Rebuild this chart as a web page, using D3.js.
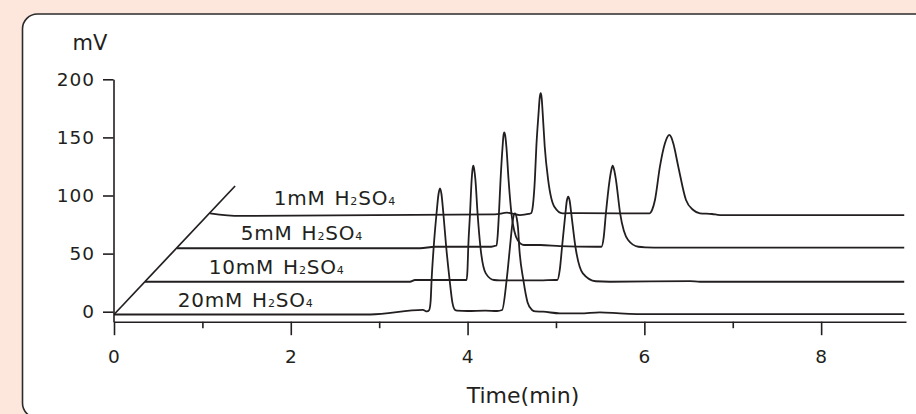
<!DOCTYPE html>
<html>
<head>
<meta charset="utf-8">
<script src="https://cdn.jsdelivr.net/npm/d3@7"></script>
<style>
  body { margin: 0; background: #fde7dc; }
  svg { display: block; font-family: "DejaVu Sans", sans-serif; }
</style>
</head>
<body>
<svg></svg>
<script>
// acid concentrations, bottom trace first
let concentrations = ['20mM', '10mM', '5mM', '1mM'];

// chromatograms: [time (min), signal (mV)]
let trace20 = [
  [0, -2.4], [2.90, -2.4], [3.495, 1.5], [3.541, 0.2], [3.566, 1.5], [3.582, 9],
  [3.593, 27.3], [3.617, 55.9], [3.649, 84.7], [3.672, 101.5], [3.688, 106.2], [3.704, 101.5],
  [3.726, 84.7], [3.758, 55.9], [3.797, 27.3], [3.828, 8], [3.859, 1.5], [3.88, 1.0], [4.0, 0.6],
  [4.2, 1.0], [4.333, 0.6], [4.391, 1.5], [4.442, 27.3], [4.480, 55.9], [4.501, 72],
  [4.516, 80.5], [4.536, 84.7], [4.556, 80.5], [4.571, 72], [4.584, 55.9], [4.631, 27.3],
  [4.679, 8], [4.729, 1.5], [4.77, 0.2],
  [4.853, 0], [5.045, -1.4], [5.271, -1.4], [5.498, -0.5], [5.724, -1.4],
  [5.95, -2.0], [8.94, -2.0]
];
let trace10 = [
  [0.351, 25.8], [3.348, 25.8], [3.405, 27.3], [3.914, 27.3], [3.989, 27.3], [3.999, 36],
  [4.008, 55.9], [4.028, 84.7], [4.046, 113.3], [4.056, 122.5], [4.065, 125.6], [4.075, 122.5],
  [4.089, 113.3], [4.113, 84.7], [4.145, 55.9], [4.206, 33.0], [4.30, 27.3], [4.367, 27.0],
  [4.819, 26.9], [4.989, 27.3], [5.015, 27.3], [5.043, 36], [5.069, 55.9], [5.107, 84.7],
  [5.123, 95.5], [5.139, 99.0], [5.155, 95.5], [5.173, 84.7], [5.220, 55.9], [5.304, 33.0],
  [5.45, 26.2], [5.611, 25.8], [6.516, 26.4], [6.629, 25.8], [8.94, 25.8]
];
let trace5 = [
  [0.713, 54.6], [3.462, 54.6], [3.631, 55.9], [4.253, 55.9], [4.30, 56.5],
  [4.328, 57], [4.341, 66], [4.355, 84.7], [4.373, 113.3], [4.396, 142.0], [4.406, 151.5],
  [4.415, 154.4], [4.426, 151.5], [4.439, 142.0], [4.464, 113.3], [4.496, 84.7], [4.566, 61.7],
  [4.637, 57.4], [4.819, 57.4], [5.045, 56.5], [5.45, 55.9], [5.515, 55.9], [5.540, 64],
  [5.565, 84.7], [5.607, 113.3], [5.625, 121.5], [5.641, 125.6], [5.660, 121.5], [5.679, 113.3],
  [5.726, 84.7], [5.816, 61.7], [5.932, 55.9], [6.02, 55.4], [6.2, 55.1], [8.94, 55.1]
];
let trace1 = [
  [1.086, 84.7], [1.425, 82.4], [4.310, 83.8], [4.446, 85.2], [4.593, 83.2],
  [4.69, 84.1], [4.718, 84.7], [4.740, 92], [4.761, 113.3], [4.778, 142.0], [4.803, 170.7],
  [4.816, 184], [4.827, 188.0], [4.838, 184], [4.850, 170.7], [4.873, 142.0], [4.912, 113.3],
  [4.982, 90.4], [5.076, 84.7], [5.271, 84.9], [5.724, 84.7], [6.060, 84.7], [6.090, 88],
  [6.120, 96.1], [6.176, 124.8], [6.233, 144.9], [6.258, 150], [6.282, 152.1], [6.305, 150],
  [6.327, 144.9], [6.384, 124.8], [6.471, 96.1], [6.553, 87.5], [6.629, 84.7], [6.765, 84.1],
  [6.855, 83.2], [8.94, 83.2]
];
let traces = [trace20, trace10, trace5, trace1];

// depth guide the traces start from
let depthLine = [[0, -2.4], [1.37, 108.2]];

let yTicks = [0, 50, 100, 150, 200];
let xMajorTicks = [0, 2, 4, 6, 8];
let xMinorTicks = [1, 3, 5, 7];

let width = 916;
let height = 414;
let ink = '#231f20';

let xScale = d3.scaleLinear().domain([0, 8.96]).range([114, 906]);
let yScale = d3.scaleLinear().domain([-8.6, 200]).range([321.7, 79.3]);

let svg = d3.select('svg')
  .attr('width', width)
  .attr('height', height);

// white panel with rounded corners
svg.append('rect')
  .attr('x', 22.5)
  .attr('y', 14)
  .attr('width', 930)
  .attr('height', 404)
  .attr('rx', 15)
  .attr('fill', '#fff')
  .attr('stroke', '#2b2b2b')
  .attr('stroke-width', 1.6);

// y axis
svg.append('g')
  .attr('transform', `translate(${xScale(0) - 0.5}, 0)`)
  .call(d3.axisLeft(yScale).tickValues(yTicks).tickSize(10.5).tickSizeOuter(0).tickPadding(8));

// x axis, major and minor ticks
svg.append('g')
  .attr('transform', `translate(0, ${yScale.range()[0]})`)
  .call(d3.axisBottom(xScale).tickValues(xMajorTicks).tickSize(13.5).tickSizeOuter(0).tickPadding(15));

svg.append('g')
  .attr('transform', `translate(0, ${yScale.range()[0]})`)
  .call(d3.axisBottom(xScale).tickValues(xMinorTicks).tickSize(6.5).tickFormat(''))
  .call(g => g.select('.domain').remove());

svg.selectAll('.domain, .tick line')
  .attr('stroke', ink)
  .attr('stroke-width', 1.6);

svg.selectAll('.tick text')
  .attr('fill', ink)
  .style('font-family', '"DejaVu Sans", sans-serif')
  .style('font-size', '18.5px')
  .style('letter-spacing', '1px');

svg.append('text')
  .attr('x', 90)
  .attr('y', 50)
  .attr('text-anchor', 'middle')
  .attr('fill', ink)
  .style('font-size', '21px')
  .text('mV');

svg.append('text')
  .attr('x', 523)
  .attr('y', 403)
  .attr('text-anchor', 'middle')
  .attr('fill', ink)
  .style('font-size', '22px')
  .text('Time(min)');

// depth guide
svg.append('line')
  .attr('x1', xScale(depthLine[0][0]))
  .attr('y1', yScale(depthLine[0][1]))
  .attr('x2', xScale(depthLine[1][0]))
  .attr('y2', yScale(depthLine[1][1]))
  .attr('stroke', ink)
  .attr('stroke-width', 1.7);

// traces
let line = d3.line()
  .x(d => xScale(d[0]))
  .y(d => yScale(d[1]))
  .curve(d3.curveMonotoneX);

svg.selectAll('.trace')
  .data(traces)
  .enter()
  .append('path')
    .attr('class', 'trace')
    .attr('d', line)
    .attr('fill', 'none')
    .attr('stroke', ink)
    .attr('stroke-width', 1.8)
    .attr('stroke-linejoin', 'round');

// trace labels, set just above each trace's start
let labels = svg.selectAll('.label')
  .data(traces)
  .enter()
  .append('text')
    .attr('class', 'label')
    .attr('x', d => xScale(d[0][0] + 0.72))
    .attr('y', d => yScale(d[0][1] + 6.8))
    .attr('fill', ink)
    .style('font-size', '20px')
    .style('letter-spacing', '0.8px');

labels.append('tspan').text((d, i) => concentrations[i]);
labels.append('tspan').attr('dx', 9).text('H');
labels.append('tspan').style('font-size', '11px').text('2');
labels.append('tspan').text('SO');
labels.append('tspan').style('font-size', '11px').text('4');
</script>
</body>
</html>
